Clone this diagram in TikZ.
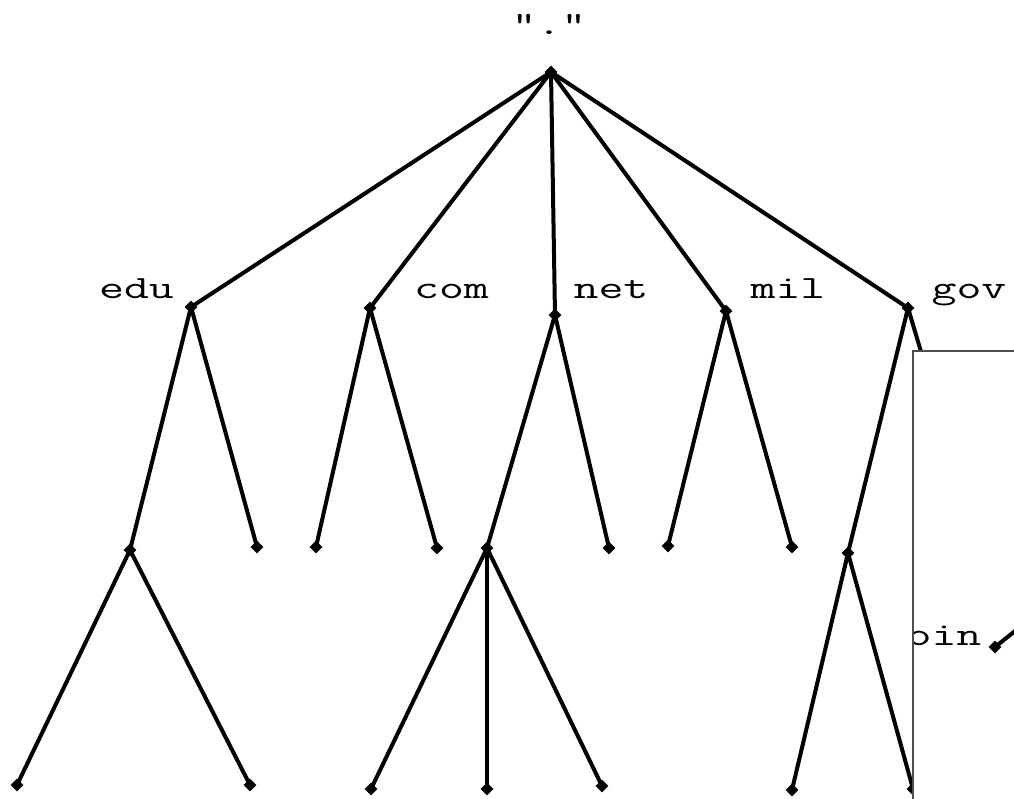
\documentclass[tikz,border=0pt]{standalone}
\usepackage{fontspec}
\usepackage{graphicx}
\usetikzlibrary{shapes.geometric}
\newcommand\widetext[1]{\scalebox{1.49}[1]{#1}}
\begin{document}
\begin{tikzpicture}[x=1pt,y=-1pt,
  edge/.style={line width=4pt},
  pt/.style={diamond,fill,inner sep=0pt,minimum size=13pt},
  lbl/.style={anchor=base,inner sep=0pt,font=\fontsize{32.5}{32.5}\selectfont\ttfamily},
  frame/.style={draw=black!70,line width=1.6pt,fill=white}]
\useasboundingbox (0,0) rectangle (1014,799);
\clip (0,0) rectangle (1014,799);

% root and top-level domains
\node[pt] (root) at (551,72) {};
\node[pt] (edu) at (191,307) {};
\node[pt] (com) at (370,308) {};
\node[pt] (net) at (555,315) {};
\node[pt] (mil) at (726,311) {};
\node[pt] (gov) at (908,308) {};

% second level
\node[pt] (e1) at (130,550) {};
\node[pt] (e2) at (257,547) {};
\node[pt] (c1) at (316,547) {};
\node[pt] (c2) at (437,548) {};
\node[pt] (n1) at (487,548) {};
\node[pt] (n2) at (609,548) {};
\node[pt] (m1) at (668,546) {};
\node[pt] (m2) at (792,547) {};
\node[pt] (g1) at (848,553) {};
\coordinate (g2) at (980,550);

% third level
\node[pt] (e11) at (17,785) {};
\node[pt] (e12) at (250,785) {};
\node[pt] (n11) at (371,789) {};
\node[pt] (n12) at (487,789) {};
\node[pt] (n13) at (602,786) {};
\node[pt] (g11) at (792,790) {};
\node[pt] (g12) at (913,789) {};

% connectors
\foreach \c in {edu,com,net,mil,gov} \draw[edge] (root.center) -- (\c.center);
\draw[edge] (edu.center) -- (e1.center);  \draw[edge] (edu.center) -- (e2.center);
\draw[edge] (com.center) -- (c1.center);  \draw[edge] (com.center) -- (c2.center);
\draw[edge] (net.center) -- (n1.center);  \draw[edge] (net.center) -- (n2.center);
\draw[edge] (mil.center) -- (m1.center);  \draw[edge] (mil.center) -- (m2.center);
\draw[edge] (gov.center) -- (g1.center);  \draw[edge] (gov.center) -- (g2);
\draw[edge] (e1.center) -- (e11.center);  \draw[edge] (e1.center) -- (e12.center);
\draw[edge] (n1.center) -- (n11.center);  \draw[edge] (n1.center) -- (n12.center);
\draw[edge] (n1.center) -- (n13.center);
\draw[edge] (g1.center) -- (g11.center);  \draw[edge] (g1.center) -- (g12.center);

% labels
\node[lbl] (troot) at (549,35) {\widetext{"."}};
\node[lbl] (tedu) at (136.5,299) {\widetext{edu}};
\node[lbl] (tcom) at (451.5,299) {\widetext{com}};
\node[lbl] (tnet) at (611,299) {\widetext{net}};
\node[lbl] (tmil) at (788,299) {\widetext{mil}};
\node[lbl] (tgov) at (969,299) {\widetext{gov}};

% overlapping panel on the right
\path[frame] (913,351) rectangle (1040,830);
\begin{scope}
  \clip (914,352) rectangle (1040,830);
  \node[lbl] (toin) at (944,645) {\widetext{oin}};
  \node[pt] (j) at (995,647) {};
  \coordinate (jup) at (1045,607);
  \draw[edge] (j.center) -- (jup);
\end{scope}
\draw[draw=black!70,line width=1.6pt] (1040,351) -- (913,351) -- (913,830);
\end{tikzpicture}
\end{document}
